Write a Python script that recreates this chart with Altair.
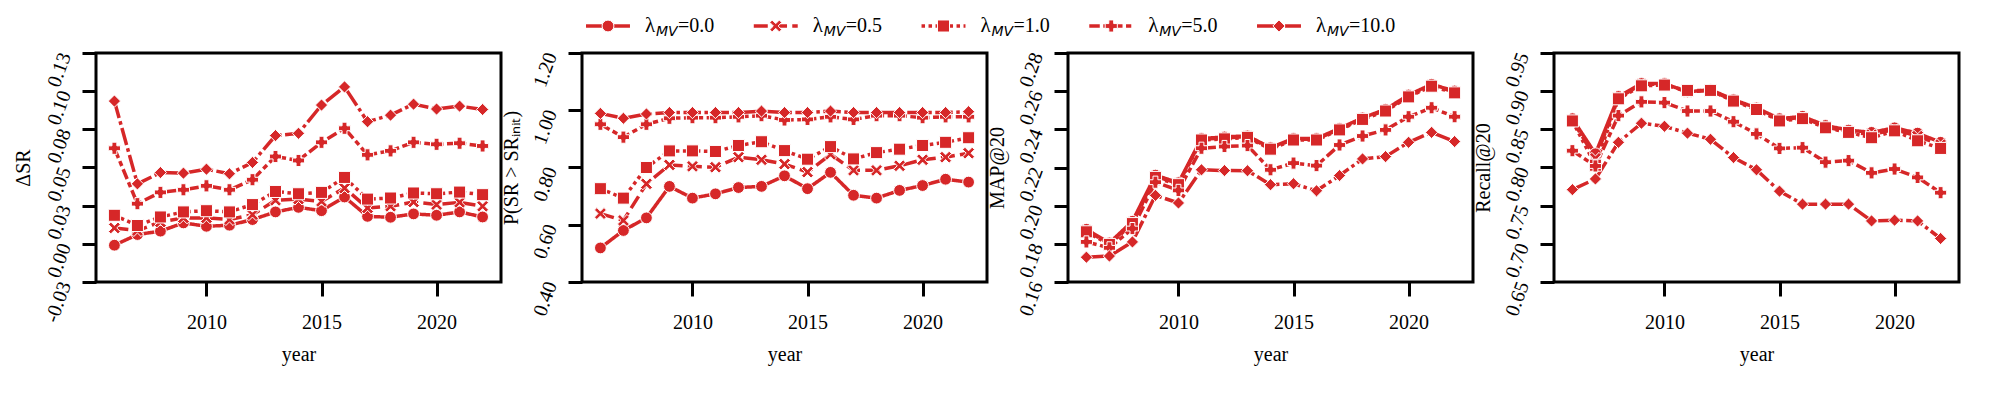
import altair as alt
import pandas as pd

RED = "#d62728"
FONT = "Liberation Serif"

years = list(range(2006, 2023))
lam_labels = ["0.0", "0.5", "1.0", "5.0", "10.0"]
legend_eq = ["=0.0", "=0.5", "=1.0", "=5.0", "=10.0"]

# Panel 1: Delta SR
dsr_l00 = [-0.0009, 0.0061, 0.0083, 0.0137, 0.0115, 0.0122, 0.0159, 0.0209, 0.0239, 0.0217, 0.0307, 0.0180, 0.0174, 0.0196, 0.0187, 0.0209, 0.0176]
dsr_l05 = [0.0104, 0.0087, 0.0143, 0.0170, 0.0170, 0.0159, 0.0191, 0.0285, 0.0293, 0.0278, 0.0365, 0.0235, 0.0246, 0.0274, 0.0257, 0.0272, 0.0246]
dsr_l10 = [0.0187, 0.0120, 0.0176, 0.0209, 0.0217, 0.0209, 0.0257, 0.0343, 0.0328, 0.0337, 0.0435, 0.0293, 0.0300, 0.0333, 0.0328, 0.0339, 0.0322]
dsr_l50 = [0.0626, 0.0263, 0.0337, 0.0354, 0.0380, 0.0354, 0.0420, 0.0572, 0.0546, 0.0665, 0.0757, 0.0583, 0.0609, 0.0665, 0.0652, 0.0659, 0.0641]
dsr_l100 = [0.0935, 0.0393, 0.0467, 0.0463, 0.0489, 0.0459, 0.0533, 0.0709, 0.0724, 0.0909, 0.1028, 0.0800, 0.0843, 0.0915, 0.0883, 0.0902, 0.0880]

# Panel 2: P(SR > SR_init)
psr_l00 = [0.519, 0.580, 0.624, 0.734, 0.693, 0.708, 0.730, 0.734, 0.771, 0.726, 0.783, 0.703, 0.693, 0.720, 0.737, 0.759, 0.749]
psr_l05 = [0.639, 0.615, 0.743, 0.809, 0.804, 0.801, 0.836, 0.827, 0.812, 0.784, 0.846, 0.790, 0.790, 0.806, 0.827, 0.836, 0.850]
psr_l10 = [0.726, 0.693, 0.800, 0.858, 0.858, 0.856, 0.877, 0.890, 0.859, 0.829, 0.873, 0.830, 0.852, 0.864, 0.877, 0.888, 0.904]
psr_l50 = [0.951, 0.906, 0.951, 0.972, 0.974, 0.974, 0.977, 0.981, 0.966, 0.968, 0.977, 0.968, 0.981, 0.981, 0.974, 0.977, 0.977]
psr_l100 = [0.989, 0.972, 0.987, 0.992, 0.992, 0.992, 0.992, 0.997, 0.992, 0.992, 0.997, 0.992, 0.992, 0.992, 0.992, 0.992, 0.995]

# Panel 3: MAP@20
map_l00 = [0.1876, 0.1805, 0.1918, 0.2160, 0.2120, 0.2352, 0.2360, 0.2366, 0.2304, 0.2352, 0.2352, 0.2405, 0.2460, 0.2505, 0.2580, 0.2636, 0.2601]
map_l05 = [0.1870, 0.1800, 0.1912, 0.2154, 0.2115, 0.2348, 0.2355, 0.2362, 0.2300, 0.2348, 0.2348, 0.2401, 0.2456, 0.2500, 0.2575, 0.2631, 0.2596]
map_l10 = [0.1863, 0.1797, 0.1906, 0.2148, 0.2110, 0.2344, 0.2350, 0.2358, 0.2296, 0.2344, 0.2344, 0.2397, 0.2452, 0.2496, 0.2570, 0.2626, 0.2591]
map_l50 = [0.1810, 0.1779, 0.1880, 0.2123, 0.2080, 0.2301, 0.2310, 0.2315, 0.2188, 0.2223, 0.2210, 0.2318, 0.2365, 0.2397, 0.2466, 0.2513, 0.2466]
map_l100 = [0.1730, 0.1736, 0.1810, 0.2054, 0.2014, 0.2188, 0.2184, 0.2183, 0.2110, 0.2115, 0.2078, 0.2158, 0.2245, 0.2257, 0.2332, 0.2384, 0.2336]

# Panel 4: Recall@20
rec_l00 = [0.864, 0.818, 0.893, 0.910, 0.910, 0.899, 0.902, 0.889, 0.878, 0.864, 0.867, 0.855, 0.849, 0.846, 0.852, 0.845, 0.833]
rec_l05 = [0.862, 0.812, 0.891, 0.909, 0.909, 0.899, 0.901, 0.888, 0.877, 0.862, 0.866, 0.853, 0.847, 0.843, 0.850, 0.841, 0.830]
rec_l10 = [0.861, 0.803, 0.890, 0.907, 0.908, 0.901, 0.901, 0.887, 0.876, 0.861, 0.864, 0.852, 0.846, 0.839, 0.848, 0.835, 0.825]
rec_l50 = [0.822, 0.802, 0.868, 0.886, 0.885, 0.874, 0.874, 0.860, 0.844, 0.825, 0.826, 0.807, 0.809, 0.793, 0.798, 0.787, 0.767]
rec_l100 = [0.771, 0.785, 0.833, 0.858, 0.854, 0.845, 0.837, 0.813, 0.797, 0.769, 0.752, 0.752, 0.752, 0.730, 0.731, 0.730, 0.707]

# axis ticks
dsr_ticks = [-0.025, 0.0, 0.025, 0.05, 0.075, 0.1, 0.125]
dsr_tick_labels = ["-0.03", "0.00", "0.03", "0.05", "0.08", "0.10", "0.13"]
psr_ticks = [0.4, 0.6, 0.8, 1.0, 1.2]
psr_tick_labels = ["0.40", "0.60", "0.80", "1.00", "1.20"]
map_ticks = [0.16, 0.18, 0.2, 0.22, 0.24, 0.26, 0.28]
map_tick_labels = ["0.16", "0.18", "0.20", "0.22", "0.24", "0.26", "0.28"]
rec_ticks = [0.65, 0.7, 0.75, 0.8, 0.85, 0.9, 0.95]
rec_tick_labels = ["0.65", "0.70", "0.75", "0.80", "0.85", "0.90", "0.95"]
year_ticks = [2010, 2015, 2020]

LW = 3.5
dashes = [[1, 0], [4 * LW, 1.5 * LW], [1 * LW, 1 * LW], [3 * LW, 1 * LW, 1.5 * LW, 1 * LW], [5 * LW, 1 * LW, 1 * LW, 1 * LW]]
X_PATH = "M-1,-0.6L-0.6,-1L0,-0.4L0.6,-1L1,-0.6L0.4,0L1,0.6L0.6,1L0,0.4L-0.6,1L-1,0.6L-0.4,0Z"
shapes = ["circle", X_PATH, "square", "cross", "diamond"]
sizes = [140, 150, 115, 175, 150]

dash_enc = alt.StrokeDash("lam:N", scale=alt.Scale(domain=lam_labels, range=dashes), legend=None)
shape_enc = alt.Shape("lam:N", scale=alt.Scale(domain=lam_labels, range=shapes), legend=None)
size_enc = alt.Size("lam:N", scale=alt.Scale(domain=lam_labels, range=sizes), legend=None)


def long_df(series):
    rows = []
    for lam, vals in zip(lam_labels, series):
        for yr, v in zip(years, vals):
            rows.append({"year": yr, "lam": lam, "value": v})
    return pd.DataFrame(rows)


def label_expr(vals, labs):
    return "[" + ",".join("'%s'" % l for l in labs) + "][indexof([" + ",".join(repr(v) for v in vals) + "], datum.value)]"


def legend_layer():
    leg = pd.DataFrame({"idx": list(range(5)), "lam": lam_labels, "eq": legend_eq})
    lx = alt.Scale(domain=[0, 4], range=[26, 697])
    base = alt.Chart(leg)
    rule = base.transform_calculate(x0="datum.idx - 0.131", x1="datum.idx + 0.131").mark_rule(
        strokeWidth=LW, color=RED, strokeCap="butt"
    ).encode(x=alt.X("x0:Q", scale=lx, axis=None), x2="x1:Q", y=alt.value(-27), strokeDash=dash_enc)
    pts = base.mark_point(filled=True, fill=RED, stroke="white", strokeWidth=1, opacity=1).encode(
        x=alt.X("idx:Q", scale=lx, axis=None), y=alt.value(-27), shape=shape_enc, size=size_enc)
    lam_t = base.mark_text(text="λ", align="left", baseline="alphabetic", dx=37, font=FONT, fontSize=21, color="black").encode(
        x=alt.X("idx:Q", scale=lx, axis=None), y=alt.value(-21))
    mv_t = base.mark_text(text="MV", align="left", baseline="alphabetic", dx=48, font="DejaVu Sans", fontStyle="italic", fontSize=14, color="black").encode(
        x=alt.X("idx:Q", scale=lx, axis=None), y=alt.value(-17))
    eq_t = base.mark_text(align="left", baseline="alphabetic", dx=70, font=FONT, fontSize=20, color="black").encode(
        x=alt.X("idx:Q", scale=lx, axis=None), y=alt.value(-21), text="eq:N")
    return alt.layer(rule, pts, lam_t, mv_t, eq_t)


def panel(series, title, domain, ticks, tick_labels, with_legend=False):
    df = long_df(series)
    base = alt.Chart(df)
    x = alt.X("year:Q", scale=alt.Scale(domain=[2005.2, 2022.8], nice=False, zero=False),
              axis=alt.Axis(values=year_ticks, format="d", title="year", orient="bottom",
                            labelPadding=16, titlePadding=12, labelAngle=0))
    y = alt.Y("value:Q", scale=alt.Scale(domain=domain, nice=False, zero=False),
              axis=alt.Axis(values=ticks, labelExpr=label_expr(ticks, tick_labels), title=title,
                            labelAngle=290, labelAlign="right", labelBaseline="middle",
                            labelPadding=17, titlePadding=8))
    lines = base.mark_line(strokeWidth=LW, color=RED, strokeCap="butt", strokeJoin="round").encode(
        x=x, y=y, strokeDash=dash_enc, detail="lam:N")
    pts = base.mark_point(filled=True, fill=RED, stroke="white", strokeWidth=1, opacity=1).encode(
        x=x, y=y, shape=shape_enc, size=size_enc)
    inner = alt.layer(lines, pts)
    if with_legend:
        ch = alt.layer(inner, legend_layer()).resolve_scale(x="independent")
    else:
        ch = inner
    return ch.properties(width=405, height=229)


p1 = panel([dsr_l00, dsr_l05, dsr_l10, dsr_l50, dsr_l100], "ΔSR", [-0.025, 0.125], dsr_ticks, dsr_tick_labels)
p2 = panel([psr_l00, psr_l05, psr_l10, psr_l50, psr_l100], "P(SR > SRᵢₙᵢₜ)", [0.4, 1.2], psr_ticks, psr_tick_labels, with_legend=True)
p3 = panel([map_l00, map_l05, map_l10, map_l50, map_l100], "MAP@20", [0.16, 0.28], map_ticks, map_tick_labels)
p4 = panel([rec_l00, rec_l05, rec_l10, rec_l50, rec_l100], "Recall@20", [0.65, 0.95], rec_ticks, rec_tick_labels)

chart = alt.hconcat(p1, p2, p3, p4, spacing=81, bounds="flush").properties(
    padding={"left": 3, "top": 5, "right": 5, "bottom": 5},
    background="white",
).configure_view(
    stroke="black", strokeWidth=3
).configure_axis(
    domain=False, grid=False, tickColor="black", tickWidth=3, tickSize=14,
    labelOverlap=False, labelFlush=False, labelBound=False,
    labelFont=FONT, labelFontSize=20, labelColor="black",
    titleFont=FONT, titleFontSize=20, titleFontWeight="normal", titleColor="black"
)

chart.save("out.html", embed_options={"renderer": "svg", "actions": False})
